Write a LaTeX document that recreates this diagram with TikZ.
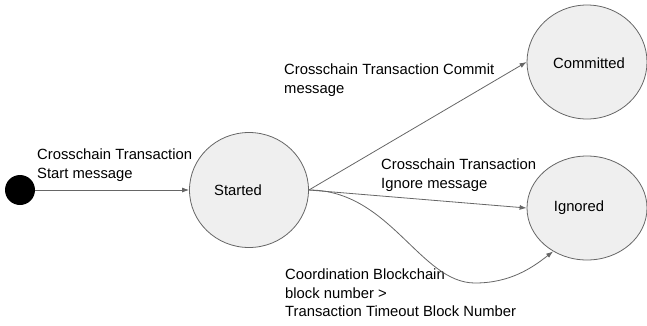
\documentclass[tikz,border=0pt]{standalone}
\usepackage{fontspec}
\setmainfont{Liberation Sans}
\usetikzlibrary{arrows.meta,shapes.geometric}
\definecolor{stfill}{HTML}{EFEFEF}
\definecolor{lncol}{HTML}{666666}
\begin{document}
\begin{tikzpicture}[x=1pt,y=-1pt,
 state/.style={ellipse,draw=lncol,fill=stfill,inner sep=0pt,line width=0.8pt},
 txt/.style={font=\fontsize{14.8}{18.5}\selectfont,align=left,inner sep=0pt,text=black},
 conn/.style={draw=lncol,line width=0.8pt,-{Latex[length=7pt,width=5pt]}}
]
\useasboundingbox (0,0) rectangle (647,325);
\node[circle,fill=black,minimum size=30pt,inner sep=0pt] (init) at (20,190) {};
\node[state,minimum width=119pt,minimum height=115pt] (s) at (249,190) {};
\node[state,minimum width=120pt,minimum height=114pt] (c) at (587,62) {};
\node[state,minimum width=120pt,minimum height=104pt] (i) at (587,208) {};
\node[txt] (sl) at (238,190) {Started};
\node[txt] (cl) at (589,63) {Committed};
\node[txt] (il) at (579,208) {Ignored};
\node[txt,anchor=north west] (l1) at (37,149) {Crosschain Transaction\\Start message};
\node[txt,anchor=north west] (l2) at (284,64) {Crosschain Transaction Commit\\message};
\node[txt,anchor=north west] (l3) at (381,159) {Crosschain Transaction\\Ignore message};
\node[txt,anchor=north west] (l4) at (285,269) {Coordination Blockchain\\block number >\\Transaction Timeout Block Number};
\draw[conn] (init) -- (s);
\draw[conn] (s.east) -- (c.west);
\draw[conn] (s.east) -- (i.west);
\draw[conn] (s.east) .. controls (390,190) and (420,283) .. (475,283) .. controls (510,283) and (532,268) .. (i.232);
\end{tikzpicture}
\end{document}
